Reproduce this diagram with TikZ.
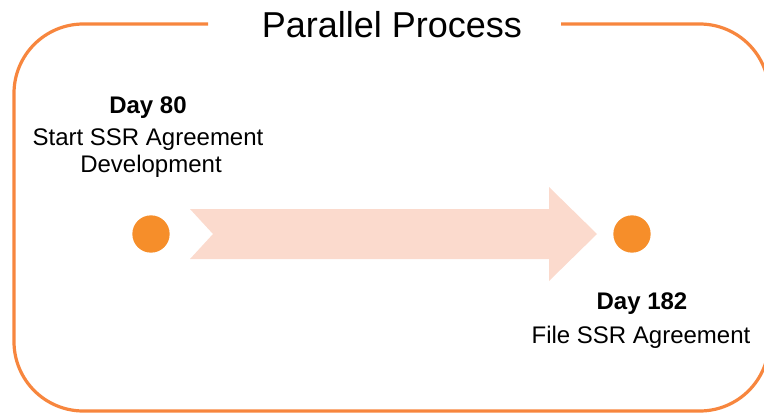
\documentclass[tikz,border=0pt]{standalone}
\usepackage{fontspec}
\setmainfont{Liberation Sans}
\definecolor{frameorange}{RGB}{247,134,62}
\definecolor{dotorange}{RGB}{246,142,42}
\definecolor{arrowpeach}{RGB}{251,218,205}
\begin{document}
\begin{tikzpicture}[x=0.75pt,y=-0.75pt,
  frameline/.style={draw=frameorange,line width=2.4pt,rounded corners=52pt},
  dotnode/.style={circle,fill=dotorange,minimum size=28pt,inner sep=0pt},
  titletext/.style={anchor=base,inner sep=0pt,font=\fontsize{27pt}{32pt}\selectfont},
  daytext/.style={anchor=base,inner sep=0pt,font=\fontsize{18pt}{21pt}\selectfont\bfseries},
  bodytext/.style={anchor=base,inner sep=0pt,font=\fontsize{18pt}{21pt}\selectfont}]
\useasboundingbox (0,0) rectangle (764,414);
\clip (0,0) rectangle (764,414);
% frame with gap for the title
\draw[frameline] (208,24) -- (14,24) -- (14,411) -- (769,411) -- (769,24) -- (561,24);
\node[titletext] (title) at (392,37) {Parallel Process};
% big arrow
\fill[arrowpeach] (190,209) -- (213,234) -- (190,259) -- (549,259) -- (549,281)
  -- (597,234) -- (549,187) -- (549,209) -- cycle;
% dots
\node[dotnode] (start) at (151,234) {};
\node[dotnode] (end) at (632,234) {};
% left labels
\node[daytext] (d80) at (148,113) {Day 80};
\node[bodytext] (s1) at (148,145) {Start SSR Agreement};
\node[bodytext] (s2) at (151,172) {Development};
% right labels
\node[daytext] (d182) at (642,309) {Day 182};
\node[bodytext] (f1) at (641,343) {File SSR Agreement};
\end{tikzpicture}
\end{document}
